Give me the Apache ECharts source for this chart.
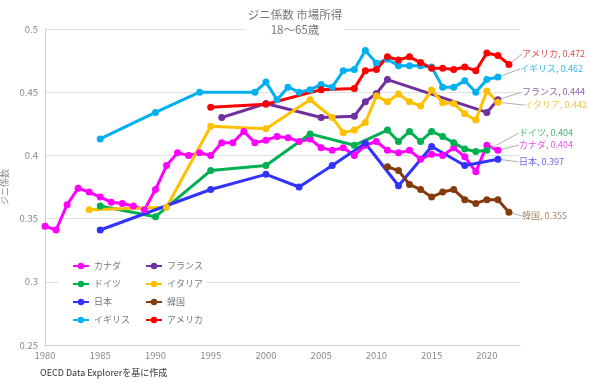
<!DOCTYPE html>
<html><head><meta charset="utf-8">
<script src="https://cdn.jsdelivr.net/npm/echarts@6/dist/echarts.min.js"></script>
<style>html,body{margin:0;padding:0;background:#fff}#c{width:590px;height:385px}</style>
</head><body><div id="c"></div>
<script>
// ---- data ----
const canadaYears = [1980,1981,1982,1983,1984,1985,1986,1987,1988,1989,1990,1991,1992,1993,1994,1995,1996,1997,1998,1999,2000,2001,2002,2003,2004,2005,2006,2007,2008,2009,2010,2011,2012,2013,2014,2015,2016,2017,2018,2019,2020,2021];
const canadaValues = [0.344,0.341,0.361,0.374,0.371,0.367,0.363,0.362,0.360,0.357,0.373,0.392,0.402,0.400,0.402,0.400,0.410,0.410,0.419,0.410,0.412,0.415,0.414,0.411,0.413,0.406,0.404,0.406,0.400,0.408,0.411,0.404,0.402,0.404,0.397,0.401,0.400,0.406,0.399,0.387,0.408,0.404];

const franceYears = [1996,2000,2005,2008,2009,2010,2011,2020,2021];
const franceValues = [0.430,0.441,0.430,0.431,0.4425,0.449,0.460,0.434,0.444];

const germanyYears = [1985,1990,1995,2000,2004,2008,2011,2012,2013,2014,2015,2016,2017,2018,2019,2020];
const germanyValues = [0.360,0.3515,0.388,0.392,0.417,0.408,0.420,0.411,0.419,0.411,0.419,0.415,0.410,0.405,0.403,0.404];

const italyYears = [1984,1991,1995,2000,2004,2006,2007,2008,2009,2010,2011,2012,2013,2014,2015,2016,2017,2018,2019,2020,2021];
const italyValues = [0.357,0.359,0.423,0.421,0.444,0.430,0.418,0.420,0.426,0.447,0.4425,0.4485,0.4425,0.439,0.4517,0.4417,0.441,0.433,0.428,0.451,0.442];

const japanYears = [1985,1995,2000,2003,2006,2009,2012,2015,2018,2021];
const japanValues = [0.341,0.373,0.385,0.375,0.392,0.4096,0.376,0.407,0.392,0.397];

const koreaYears = [2011,2012,2013,2014,2015,2016,2017,2018,2019,2020,2021,2022];
const koreaValues = [0.391,0.388,0.377,0.373,0.367,0.371,0.373,0.365,0.362,0.365,0.365,0.355];

const ukYears = [1985,1990,1994,1999,2000,2001,2002,2003,2004,2005,2006,2007,2008,2009,2010,2011,2012,2013,2014,2015,2016,2017,2018,2019,2020,2021];
const ukValues = [0.413,0.434,0.450,0.450,0.458,0.444,0.454,0.450,0.452,0.456,0.454,0.467,0.468,0.483,0.473,0.476,0.471,0.471,0.471,0.470,0.454,0.454,0.459,0.450,0.460,0.462];

const usYears = [1995,2000,2005,2008,2009,2010,2011,2012,2013,2014,2015,2016,2017,2018,2019,2020,2021,2022];
const usValues = [0.438,0.4405,0.452,0.453,0.467,0.468,0.478,0.4755,0.478,0.4734,0.469,0.469,0.468,0.470,0.467,0.481,0.479,0.472];

const seriesNames = ['カナダ','フランス','ドイツ','イタリア','日本','韓国','イギリス','アメリカ'];
const xTickLabels = ['1980','1985','1990','1995','2000','2005','2010','2015','2020'];
const yTickLabels = ['0.25','0.3','0.35','0.4','0.45','0.5'];

// ---- styles ----
const FONT = "'Noto Sans CJK JP', 'Noto Sans', sans-serif";
const styleMap = {
  'カナダ':   {color:'#ff00ff', label:'#e855e8', lx:519, ly:145},
  'フランス': {color:'#7030a0', label:'#8a68aa', lx:522, ly:92},
  'ドイツ':   {color:'#00b050', label:'#45b872', lx:519, ly:133},
  'イタリア': {color:'#ffc000', label:'#f2c447', lx:524, ly:105},
  '日本':     {color:'#3333ff', label:'#6a6ae6', lx:519, ly:162},
  '韓国':     {color:'#843c0c', label:'#a8856a', lx:522, ly:216},
  'イギリス': {color:'#00b0f0', label:'#3cb6e6', lx:520, ly:69},
  'アメリカ': {color:'#ff0000', label:'#dd5050', lx:522, ly:54}
};
const dataSets = {
  'カナダ':[canadaYears,canadaValues],
  'フランス':[franceYears,franceValues],
  'ドイツ':[germanyYears,germanyValues],
  'イタリア':[italyYears,italyValues],
  '日本':[japanYears,japanValues],
  '韓国':[koreaYears,koreaValues],
  'イギリス':[ukYears,ukValues],
  'アメリカ':[usYears,usValues]
};

function buildSeries(name){
  const [ys, vs] = dataSets[name];
  const st = styleMap[name];
  const data = ys.map((y,i)=>{
    if (i === ys.length-1) {
      return {value:[y, vs[i]], label:{show:true, formatter: name + ', ' + vs[i].toFixed(3)}};
    }
    return [y, vs[i]];
  });
  return {
    name, type:'line', data,
    symbol:'circle', symbolSize:7,
    lineStyle:{width:3, color:st.color},
    itemStyle:{color:st.color},
    emphasis:{disabled:true},
    animation:false,
    label:{show:false, color:st.label, fontSize:9, fontFamily:FONT},
    labelLine:{show:true, lineStyle:{color:'#b0b0b0', width:1}},
    labelLayout:{x:st.lx, y:st.ly, align:'left', verticalAlign:'middle'}
  };
}

const chart = echarts.init(document.getElementById('c'), null, {renderer:'canvas'});
const legendText = {color:'#777', fontSize:9, fontFamily:FONT, lineHeight:12};
chart.setOption({
  backgroundColor:'#fff',
  animation:false,
  textStyle:{fontFamily:FONT},
  title:[
    {text:'ジニ係数 市場所得\n18〜65歳', left:'center', top:4,
     backgroundColor:'#fff', padding:[3,2,4,2],
     textStyle:{fontSize:11.5, fontWeight:'normal', color:'#777', lineHeight:15, align:'center', fontFamily:FONT}},
    {text:'OECD Data Explorerを基に作成', left:40, top:368, padding:0,
     textStyle:{fontSize:9, fontWeight:'normal', color:'#333', fontFamily:FONT}}
  ],
  grid:{left:45, right:70, top:29, bottom:40, outerBoundsMode:'none', containLabel:false},
  xAxis:{type:'value', min:1980, max:2023, interval:5,
    axisLine:{show:true, lineStyle:{color:'#d0d0d0', width:1}},
    axisTick:{show:false}, splitLine:{show:false},
    axisLabel:{color:'#888', fontSize:9.5, margin:6, showMaxLabel:false,
      formatter:v=> xTickLabels.indexOf(String(v))>=0 ? String(v) : ''}},
  yAxis:{type:'value', min:0.25, max:0.5, interval:0.05,
    name:'ジニ係数', nameLocation:'middle', nameGap:30,
    nameTextStyle:{color:'#888', fontSize:9, fontFamily:FONT},
    axisLine:{show:true, lineStyle:{color:'#d0d0d0', width:1}},
    axisTick:{show:false},
    splitLine:{show:true, lineStyle:{color:'#e0e0e0', width:1}},
    axisLabel:{color:'#888', fontSize:9.5, margin:7,
      formatter:v=>{ const s = String(+v.toFixed(2)); return yTickLabels.indexOf(s)>=0 ? s : ''; }}},
  legend:[
    {orient:'vertical', left:58, top:256, padding:[4,12,4,14], itemGap:6,
     itemWidth:16, itemHeight:8, backgroundColor:'#fff',
     data:['カナダ','ドイツ','日本','イギリス'], textStyle:legendText, selectedMode:false},
    {orient:'vertical', left:133, top:256, padding:[4,4,4,12], itemGap:6,
     itemWidth:16, itemHeight:8, backgroundColor:'#fff',
     data:['フランス','イタリア','韓国','アメリカ'], textStyle:legendText, selectedMode:false}
  ],
  series: seriesNames.map(buildSeries)
});
</script></body></html>
